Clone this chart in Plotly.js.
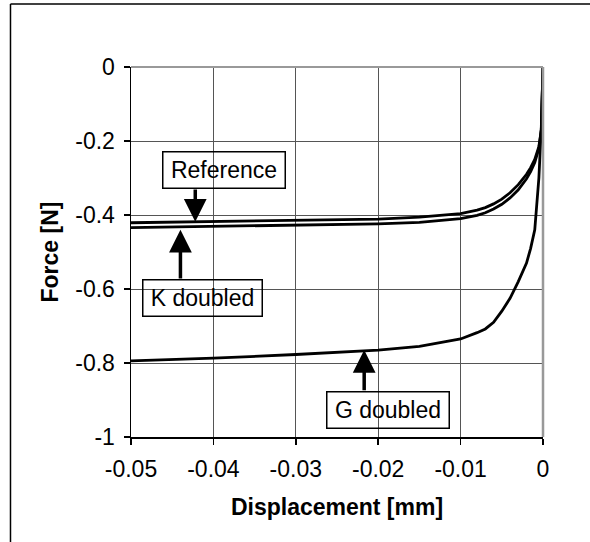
<!DOCTYPE html>
<html>
<head>
<meta charset="utf-8">
<script src="https://cdn.plot.ly/plotly-3.0.1.min.js"></script>
<style>
  html, body { margin: 0; padding: 0; background: #fff; }
  #chart { width: 590px; height: 542px; }
</style>
</head>
<body>
<div id="chart"></div>
<script>
// Displacement [mm]
const displacement = [-0.05, -0.04, -0.03, -0.02, -0.015, -0.01, -0.008, -0.007, -0.006, -0.005, -0.004, -0.003, -0.002, -0.0015, -0.001, -0.0005, -0.0002, 0];
// Force [N]
const forceReference = [-0.421, -0.418, -0.415, -0.411, -0.406, -0.396, -0.387, -0.380, -0.370, -0.357, -0.340, -0.318, -0.290, -0.272, -0.250, -0.215, -0.170, 0];
const forceKDoubled  = [-0.434, -0.431, -0.428, -0.424, -0.420, -0.410, -0.401, -0.394, -0.384, -0.371, -0.354, -0.332, -0.302, -0.283, -0.258, -0.220, -0.170, 0];
const forceGDoubled  = [-0.794, -0.787, -0.777, -0.765, -0.755, -0.735, -0.718, -0.708, -0.690, -0.660, -0.625, -0.580, -0.530, -0.490, -0.440, -0.300, -0.160, 0];

const xTickVals = [-0.05, -0.04, -0.03, -0.02, -0.01, 0];
const xTickText = ['-0.05', '-0.04', '-0.03', '-0.02', '-0.01', '0'];
const yTickVals = [-1, -0.8, -0.6, -0.4, -0.2, 0];
const yTickText = ['-1', '-0.8', '-0.6', '-0.4', '-0.2', '0'];

const labelTexts = ['Reference', 'K doubled', 'G doubled'];
// arrow tip points, arrow tail heights and label centres (data units)
const arrowTipX = [-0.0422, -0.0440, -0.0217];
const arrowTipY = [-0.418, -0.440, -0.765];
const arrowTailY = [-0.327, -0.576, -0.878];
const labelX = [-0.03877, -0.04127, -0.01887];
const labelY = [-0.2784, -0.6238, -0.9265];
const labelW = [113, 110, 113];

const FONT = 'Liberation Sans, Arial, sans-serif';

const lineStyle = {color: '#000', width: 2.8};
const traces = [
  {x: displacement, y: forceReference, mode: 'lines', line: lineStyle, name: 'Reference'},
  {x: displacement, y: forceKDoubled, mode: 'lines', line: lineStyle, name: 'K doubled'},
  {x: displacement, y: forceGDoubled, mode: 'lines', line: lineStyle, name: 'G doubled'}
];

const annotations = [];
for (let i = 0; i < labelTexts.length; i++) {
  annotations.push({
    x: arrowTipX[i], y: arrowTipY[i], xref: 'x', yref: 'y',
    ax: arrowTipX[i], ay: arrowTailY[i], axref: 'x', ayref: 'y',
    text: '', showarrow: true, arrowhead: 2, arrowsize: 1.3, arrowwidth: 3.5,
    arrowcolor: '#000', standoff: 0
  });
  annotations.push({
    x: labelX[i], y: labelY[i], xref: 'x', yref: 'y',
    text: labelTexts[i], showarrow: false,
    width: labelW[i], height: 26.5,
    font: {family: FONT, size: 23, color: '#000'},
    bgcolor: 'rgba(0,0,0,0)', bordercolor: '#000', borderwidth: 1.5, borderpad: 4
  });
}

const layout = {
  width: 590, height: 542,
  margin: {l: 131, r: 47, t: 67, b: 105},
  paper_bgcolor: '#fff', plot_bgcolor: '#fff',
  showlegend: false,
  font: {family: FONT, size: 23, color: '#000'},
  xaxis: {
    range: [-0.05, 0], tickvals: xTickVals, ticktext: xTickText,
    showgrid: true, gridcolor: '#555', gridwidth: 1,
    zeroline: false, showline: true, linecolor: '#000', linewidth: 1.5,
    ticks: 'outside', ticklen: 6, tickcolor: '#000', tickwidth: 1.5,
    ticklabelstandoff: 5,
    tickfont: {family: FONT, size: 23},
    title: {text: '<b>Displacement [mm]</b>', font: {family: FONT, size: 23}, standoff: 18}
  },
  yaxis: {
    range: [-1, 0], tickvals: yTickVals, ticktext: yTickText,
    showgrid: true, gridcolor: '#555', gridwidth: 1,
    zeroline: false, showline: true, linecolor: '#000', linewidth: 1.5,
    ticks: 'outside', ticklen: 6, tickcolor: '#000', tickwidth: 1.5,
    ticklabelstandoff: 4,
    tickfont: {family: FONT, size: 23},
    title: {text: '<b>Force [N]</b>', font: {family: FONT, size: 23}, standoff: 10}
  },
  annotations: annotations,
  shapes: [
    // grey plot-area border top and right
    {type: 'line', xref: 'paper', yref: 'paper', x0: 0, x1: 1, y0: 1, y1: 1, line: {color: '#999', width: 2}},
    {type: 'line', xref: 'paper', yref: 'paper', x0: 1, x1: 1, y0: 0, y1: 1, line: {color: '#999', width: 2.5}},
    // outer chart frame (left and top edges)
    {type: 'line', xref: 'paper', yref: 'paper', x0: -0.2925, x1: -0.2925, y0: 1.170, y1: -0.4, line: {color: '#000', width: 1.5}},
    {type: 'line', xref: 'paper', yref: 'paper', x0: -0.2925, x1: 1.2, y0: 1.170, y1: 1.170, line: {color: '#000', width: 1.5}}
  ]
};

Plotly.newPlot('chart', traces, layout, {displayModeBar: false, staticPlot: true});
</script>
</body>
</html>
